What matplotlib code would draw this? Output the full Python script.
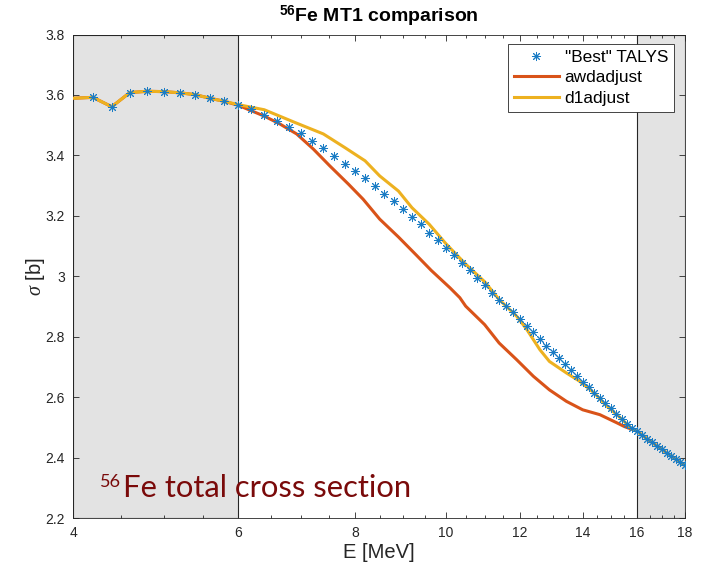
import matplotlib
matplotlib.use('Agg')
import matplotlib.pyplot as plt
from matplotlib.ticker import FixedLocator, NullFormatter

plt.rcParams['font.family'] = ['Liberation Sans', 'DejaVu Sans']
plt.rcParams['mathtext.fontset'] = 'custom'
plt.rcParams['mathtext.rm'] = 'Liberation Sans'
plt.rcParams['mathtext.it'] = 'Liberation Serif:italic'
plt.rcParams['mathtext.bf'] = 'Liberation Sans:bold'

# "Best" TALYS total cross section, 0.2 MeV grid
E_talys = [4.2, 4.4, 4.6, 4.8, 5.0, 5.2, 5.4, 5.6, 5.8, 6.0,
           6.2, 6.4, 6.6, 6.8, 7.0, 7.2, 7.4, 7.6, 7.8, 8.0,
           8.2, 8.4, 8.6, 8.8, 9.0, 9.2, 9.4, 9.6, 9.8, 10.0,
           10.2, 10.4, 10.6, 10.8, 11.0, 11.2, 11.4, 11.6, 11.8, 12.0,
           12.2, 12.4, 12.6, 12.8, 13.0, 13.2, 13.4, 13.6, 13.8, 14.0,
           14.2, 14.4, 14.6, 14.8, 15.0, 15.2, 15.4, 15.6, 15.8, 16.0,
           16.2, 16.4, 16.6, 16.8, 17.0, 17.2, 17.4, 17.6, 17.8, 18.0]
sig_talys = [3.592, 3.561, 3.608, 3.612, 3.611, 3.607, 3.601, 3.589, 3.579, 3.567,
             3.553, 3.535, 3.513, 3.493, 3.474, 3.448, 3.424, 3.397, 3.371, 3.348,
             3.324, 3.298, 3.272, 3.248, 3.222, 3.196, 3.172, 3.144, 3.120, 3.095,
             3.069, 3.045, 3.020, 2.994, 2.970, 2.945, 2.923, 2.903, 2.882, 2.859,
             2.837, 2.815, 2.793, 2.770, 2.748, 2.728, 2.708, 2.689, 2.669, 2.649,
             2.633, 2.615, 2.597, 2.580, 2.563, 2.545, 2.528, 2.512, 2.499, 2.487,
             2.474, 2.462, 2.450, 2.439, 2.428, 2.416, 2.405, 2.395, 2.384, 2.374]

# awdadjust
E_awd = [4.0, 4.2, 4.4, 4.6, 4.8, 5.0, 5.2, 5.4, 5.6, 5.8, 6.0, 6.4, 6.65, 6.93,
         7.22, 7.52, 7.87, 8.16, 8.5, 8.9, 9.3, 9.65, 10.1, 10.35, 10.5, 11.0,
         11.4, 11.9, 12.4, 12.9, 13.45, 14.0, 14.6, 15.2, 15.5, 16.0, 16.4,
         16.8, 17.2, 17.6, 18.0]
sig_awd = [3.589, 3.592, 3.561, 3.608, 3.612, 3.611, 3.607, 3.601, 3.589, 3.579,
           3.566, 3.530, 3.504, 3.471, 3.421, 3.365, 3.305, 3.255, 3.189, 3.130,
           3.070, 3.019, 2.962, 2.929, 2.901, 2.840, 2.779, 2.724, 2.669, 2.624,
           2.586, 2.558, 2.542, 2.516, 2.503, 2.487, 2.462, 2.439, 2.416, 2.395,
           2.374]

# d1adjust
E_d1 = [4.0, 4.2, 4.4, 4.6, 4.8, 5.0, 5.2, 5.4, 5.6, 5.8, 6.0, 6.4, 6.9, 7.4,
        7.8, 8.2, 8.5, 8.9, 9.2, 9.6, 10.0, 10.5, 11.0, 11.4, 11.9, 12.2, 12.6,
        12.9, 13.45, 13.9, 14.4, 14.8, 15.3, 15.8, 16.0, 16.4, 16.8, 17.2,
        17.6, 18.0]
sig_d1 = [3.589, 3.592, 3.561, 3.608, 3.612, 3.611, 3.607, 3.601, 3.589, 3.579,
          3.568, 3.551, 3.509, 3.471, 3.426, 3.382, 3.332, 3.282, 3.227, 3.172,
          3.108, 3.040, 2.982, 2.923, 2.868, 2.824, 2.757, 2.718, 2.680, 2.652,
          2.614, 2.575, 2.536, 2.495, 2.487, 2.462, 2.439, 2.416, 2.395, 2.374]

xticks = [4, 6, 8, 10, 12, 14, 16, 18]
xminor = [4.5, 5, 5.5, 6.5, 7, 7.5, 8.5, 9, 9.5, 10.5, 11, 11.5, 12.5, 13,
          13.5, 14.5, 15, 15.5, 16.5, 17, 17.5]
yticks = [2.2, 2.4, 2.6, 2.8, 3.0, 3.2, 3.4, 3.6, 3.8]
ylabels = ['2.2', '2.4', '2.6', '2.8', '3', '3.2', '3.4', '3.6', '3.8']
excluded = [(4, 6), (16, 18)]

axcol = '#262626'

fig = plt.figure(figsize=(7.04, 5.66), dpi=100)
ax = fig.add_axes([73/704, 1 - 518/566, 612/704, 483.5/566])

for lo, hi in excluded:
    ax.axvspan(lo, hi, facecolor='#e3e3e3', edgecolor=axcol, lw=0.8, zorder=0)

l_awd, = ax.plot(E_awd, sig_awd, color='#D95319', lw=2.2, zorder=2, label='awdadjust')
l_d1, = ax.plot(E_d1, sig_d1, color='#EDB120', lw=2.2, zorder=3, label='d1adjust')
l_tal, = ax.plot(E_talys, sig_talys, ls='none', marker=(8, 2, 0), ms=6.5, mew=0.7,
                 color='#1a7cc4', zorder=4, label='"Best" TALYS')

ax.set_xscale('log')
ax.set_xlim(4, 18)
ax.set_ylim(2.2, 3.8)
ax.xaxis.set_major_locator(FixedLocator(xticks))
ax.set_xticklabels([str(t) for t in xticks])
ax.xaxis.set_minor_locator(FixedLocator(xminor))
ax.xaxis.set_minor_formatter(NullFormatter())
ax.set_yticks(yticks)
ax.set_yticklabels(ylabels)

ax.tick_params(which='both', direction='in', top=True, right=True, colors=axcol,
               labelsize=10, width=0.6)
ax.tick_params(which='major', length=4.5, pad=6)
ax.tick_params(which='minor', length=2.5)
for s in ax.spines.values():
    s.set_color(axcol)
    s.set_linewidth(0.6)

ax.set_xlabel('E [MeV]', fontsize=14.5, color=axcol, labelpad=2)
ax.set_ylabel(r'$\sigma$ [b]', fontsize=14.5, color=axcol, labelpad=-1)
ax.set_title(r'$^{\mathbf{56}}$Fe MT1 comparison', fontsize=14, fontweight='bold',
             color='black', pad=9)

leg = ax.legend(handles=[l_tal, l_awd, l_d1], loc='upper right',
                bbox_to_anchor=(0.982, 0.98), borderaxespad=0, fontsize=12.4,
                fancybox=False, framealpha=1, edgecolor=axcol, numpoints=1,
                handlelength=2.6, handletextpad=0.35, labelspacing=0.3,
                borderpad=0.35)
leg.get_frame().set_linewidth(0.6)

# overlay caption
fig.text(100/704, 1 - 486.7/566, '56', fontsize=13, color='#7a0a0a',
         family='Lato', va='baseline', ha='left')
fig.text(123.3/704, 1 - 497.3/566, 'Fe total cross section', fontsize=22.3,
         color='#7a0a0a', family='Lato', va='baseline', ha='left')

fig.savefig('out.png', dpi=100)
